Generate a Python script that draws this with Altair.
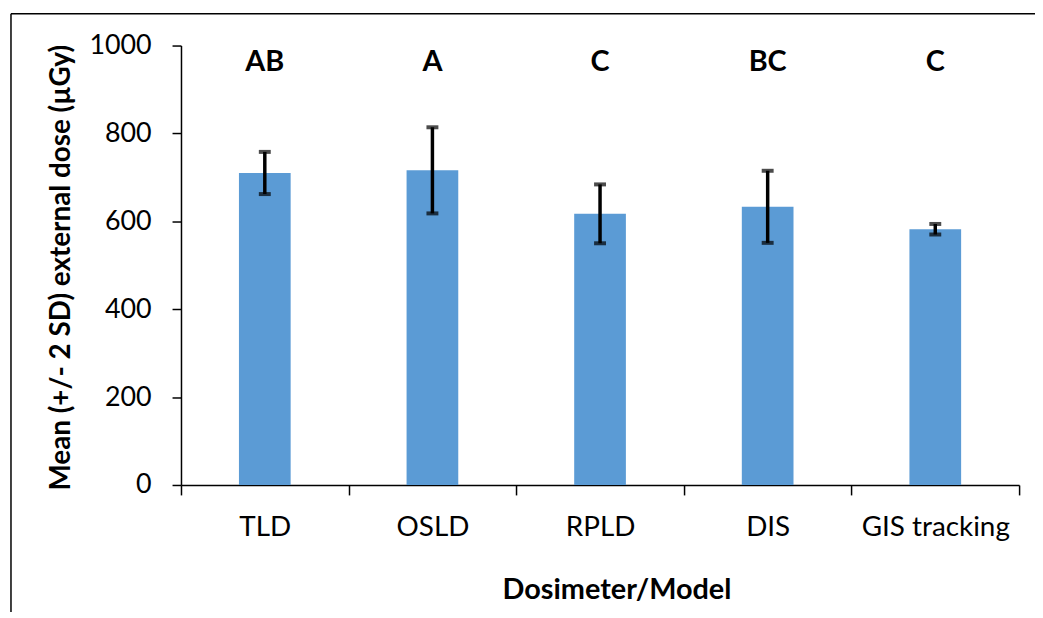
import altair as alt
import pandas as pd

categories = ["TLD", "OSLD", "RPLD", "DIS", "GIS tracking"]
means = [710, 716, 617, 633, 582]
two_sd = [48, 98, 67, 82, 12]
letters = ["AB", "A", "C", "BC", "C"]

df = pd.DataFrame({
    "cat": categories,
    "mean": means,
    "lo": [m - e for m, e in zip(means, two_sd)],
    "hi": [m + e for m, e in zip(means, two_sd)],
    "letter": letters,
})

FONT = "Lato"
W, H = 843, 442

x = alt.X(
    "cat:N",
    sort=categories,
    scale=alt.Scale(paddingInner=0, paddingOuter=0),
    axis=alt.Axis(
        title="Dosimeter/Model",
        labelAngle=0,
        tickBand="extent",
        tickSize=10,
        tickColor="black",
        tickWidth=1.5,
        domainColor="black",
        domainWidth=1.5,
        labelFont=FONT,
        labelFontSize=28,
        labelColor="black",
        labelPadding=19,
        titleFont=FONT,
        titleFontSize=29,
        titleFontWeight="bold",
        titleColor="black",
        titleX=438,
        titleY=105,
        titleBaseline="middle",
        titleAlign="center",
    ),
)

yaxis = alt.Axis(
    title="Mean (+/- 2 SD) external dose (µGy)",
    values=[0, 200, 400, 600, 800, 1000],
    format="d",
    grid=False,
    tickSize=9,
    tickColor="black",
    tickWidth=1.5,
    domainColor="black",
    domainWidth=1.5,
    labelFont=FONT,
    labelFontSize=27,
    labelColor="black",
    labelPadding=21,
    titleFont=FONT,
    titleFontSize=28,
    titleFontWeight="bold",
    titleColor="black",
    titleX=-120,
    titleY=H / 2 + 2,
    titleAngle=-90,
    titleAlign="center",
    titleBaseline="middle",
)
yscale = alt.Scale(domain=[0, 1000], nice=False)

base = alt.Chart(df)

bars = base.mark_bar(size=52, color="#5B9BD5").encode(
    x=x,
    y=alt.Y("mean:Q", scale=yscale, axis=yaxis),
)

err = base.mark_rule(color="black", strokeWidth=3.5).encode(
    x=alt.X("cat:N", sort=categories),
    y="lo:Q",
    y2="hi:Q",
)

cap_lo = base.mark_tick(color="black", size=12, thickness=4).encode(
    x=alt.X("cat:N", sort=categories),
    y="lo:Q",
)
cap_hi = base.mark_tick(color="black", size=12, thickness=4).encode(
    x=alt.X("cat:N", sort=categories),
    y="hi:Q",
)

labels = base.mark_text(
    font=FONT, fontSize=29, fontWeight="bold", color="black", baseline="alphabetic"
).encode(
    x=alt.X("cat:N", sort=categories),
    y=alt.datum(941),
    text="letter:N",
)

one = alt.Data(values=[{"k": 1}])
border_left = alt.Chart(one).mark_rule(color="black", strokeWidth=1.5).encode(
    x=alt.value(-171), y=alt.value(-32), y2=alt.value(620)
)
border_top = alt.Chart(one).mark_rule(color="black", strokeWidth=1.5).encode(
    x=alt.value(-171), x2=alt.value(900), y=alt.value(-32)
)

chart = alt.layer(bars, err, cap_lo, cap_hi, labels, border_left, border_top).properties(
    width=W,
    height=H,
    autosize=alt.AutoSizeParams(type="none"),
    padding={"left": 174, "top": 36, "right": 16, "bottom": 126},
    background="white",
).configure_view(stroke=None)

chart.save("out.html", embed_options={"renderer": "svg", "actions": False})
